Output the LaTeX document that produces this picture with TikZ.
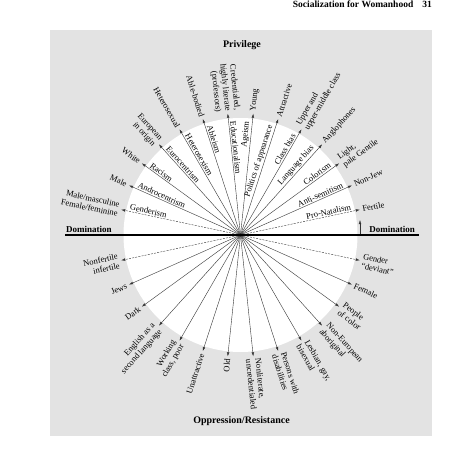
\documentclass[tikz,border=0pt]{standalone}
\usepackage{fontspec}
\setmainfont{Liberation Serif}
\usetikzlibrary{arrows.meta}

\begin{document}
\begin{tikzpicture}[x=1pt, y=1pt,
    font=\fontsize{8.5}{9.5}\selectfont,
    spoke/.style={-{Latex[length=4pt,width=2.6pt]}, line width=.4pt, black!80},
    spokedash/.style={spoke, dash pattern=on 2pt off 1.2pt},
    ism/.style={inner sep=1.2pt},
    group/.style={inner sep=1.5pt},
    heading/.style={font=\fontsize{10}{12}\selectfont\bfseries, inner sep=1pt},
    domlabel/.style={font=\fontsize{9}{11}\selectfont\bfseries, inner sep=1pt}
  ]
    \useasboundingbox (0,0) rectangle (474,451);
    \node[anchor=base east, font=\fontsize{9.5}{11}\selectfont\bfseries, inner sep=0pt]
      (head) at (432,443.5) {Socialization for Womanhood\hspace{9pt}31};
    \fill[black!11] (50,15) rectangle (432,421);

    \node[heading] (priv) at (242,406) {Privilege};
    \node[heading] (opp) at (241.5,30) {Oppression/Resistance};

    \begin{scope}[shift={(240.5,216)}]
      \coordinate (c) at (0,0);
      \fill[white] (c) circle[radius=117pt];
      \foreach \a/\s/\i/\g in {168/spokedash/Genderism/{Male/masculine\\Female/feminine},
          156/spoke/Androcentrism/Male, 144/spoke/Racism/White,
          132/spoke/Eurocentrism/{European\\in origin},
          120/spoke/Heterosexism/Heterosexual, 108/spoke/Ableism/Able-bodied,
          96/spoke/Educationalism/{Credentialed,\\highly literate\\(professors)}} {
        \coordinate (t\a) at (\a:122);
        \draw[\s] (c) -- (t\a);
        \node[ism, rotate=\a-180, anchor=south west] (i\a) at (\a:115) {\i};
        \node[group, rotate=\a-180, anchor=east, align=right] (g\a) at (\a:123) {\g};
      }
      \foreach \a/\s/\i/\g in {84/spoke/Ageism/Young,
          72/spoke/Politics of appearance/Attractive,
          60/spoke/Class bias/{Upper and\\upper-middle class},
          48/spoke/Language bias/Anglophones, 36/spoke/Colorism/{Light,\\pale Gentile},
          24/spoke/Anti-semitism/Non-Jew, 12/spokedash/Pro-Natalism/Fertile} {
        \coordinate (t\a) at (\a:122);
        \draw[\s] (c) -- (t\a);
        \node[ism, rotate=\a, anchor=south east] (i\a) at (\a:115) {\i};
        \node[group, rotate=\a, anchor=west, align=left] (g\a) at (\a:123) {\g};
      }
      \foreach \a/\s/\g in {192/spokedash/{Nonfertile\\infertile}, 204/spoke/Jews,
          216/spoke/Dark, 228/spoke/{English as a\\second language},
          240/spoke/{Working\\class, poor}, 252/spoke/Unattractive, 264/spoke/Old} {
        \coordinate (t\a) at (\a:122);
        \draw[\s] (c) -- (t\a);
        \node[group, rotate=\a-180, anchor=east, align=right] (g\a) at (\a:123) {\g};
      }
      \foreach \a/\s/\g in {276/spoke/{Nonliterate,\\uncredentialed},
          288/spoke/{Persons with\\disabilities}, 300/spoke/{Lesbian, gay,\\bisexual},
          312/spoke/{Non-European\\aboriginal}, 324/spoke/{People\\of color},
          336/spoke/Female, 348/spokedash/{Gender\\“deviant”}} {
        \coordinate (t\a) at (\a:122);
        \draw[\s] (c) -- (t\a);
        \node[group, rotate=\a, anchor=west, align=left] (g\a) at (\a:123) {\g};
      }
    \end{scope}

    \coordinate (dl) at (65,216);
    \coordinate (dr) at (419,216);
    \draw[line width=2.2pt] (dl) -- (dr);
    \node[domlabel, anchor=south west] (doml) at ([yshift=1.5pt]dl) {Domination};
    \node[domlabel, anchor=south east] (domr) at ([xshift=-3pt,yshift=1.5pt]dr) {Domination};
    \coordinate (fa) at (360,217);
    \coordinate (fb) at (360,231);
    \draw[spoke] (fa) -- (fb);
  \end{tikzpicture}
\end{document}
